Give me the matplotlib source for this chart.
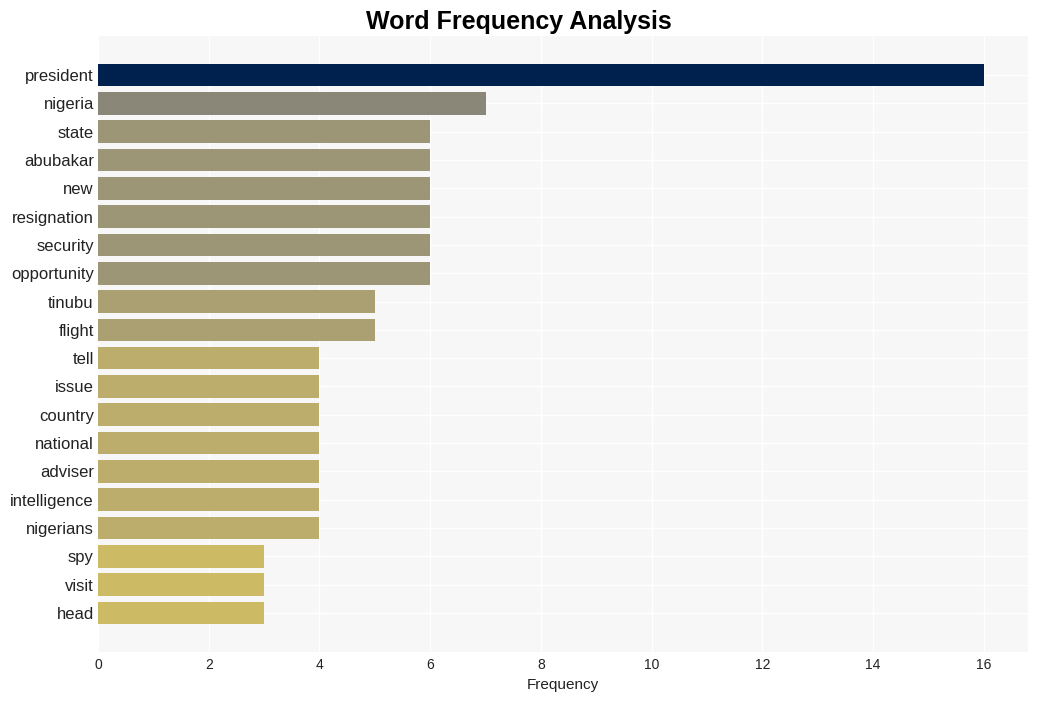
import numpy as np
import matplotlib
matplotlib.use("Agg")
from matplotlib import pyplot as plt

plt.rcParams['font.family'] = ['Liberation Sans', 'DejaVu Sans']

words = ['president', 'nigeria', 'state', 'abubakar', 'new', 'resignation', 'security',
         'opportunity', 'tinubu', 'flight', 'tell', 'issue', 'country', 'national',
         'adviser', 'intelligence', 'nigerians', 'spy', 'visit', 'head']
counts = [16, 7, 6, 6, 6, 6, 6, 6, 5, 5, 4, 4, 4, 4, 4, 4, 4, 3, 3, 3]

# colour per frequency level
level_colors = {16: '#00214e', 7: '#8b8778', 6: '#9c9576', 5: '#aaa071', 4: '#bcad6d', 3: '#cdba65'}
colors = [level_colors[c] for c in counts]

fig = plt.figure(figsize=(10.37, 7.01), dpi=100)
ax = fig.add_axes([98 / 1037, 1 - 652 / 701, (1028 - 98) / 1037, (652 - 36) / 701])

y = np.arange(len(words))
ax.barh(y, counts, height=0.8, color=colors, zorder=3)

ax.set_facecolor('#f7f7f7')
ax.grid(True, color='white', linewidth=1, zorder=0)
for s in ax.spines.values():
    s.set_visible(False)
ax.tick_params(length=0)

ax.set_yticks(y)
ax.set_yticklabels(words, fontsize=12, color='#222222')
ax.set_ylim(len(words) - 1 + 1.38, -1.38)
ax.set_xlim(0, 16.8)
ax.set_xticks(range(0, 17, 2))
ax.tick_params(axis='x', labelsize=10, labelcolor='#222222', pad=4)
ax.tick_params(axis='y', pad=3)
ax.set_xlabel('Frequency', fontsize=11, color='#222222', labelpad=5)

fig.suptitle('Word Frequency Analysis', fontsize=18, fontweight='bold', y=0.986)

fig.savefig('out.png', dpi=100)
